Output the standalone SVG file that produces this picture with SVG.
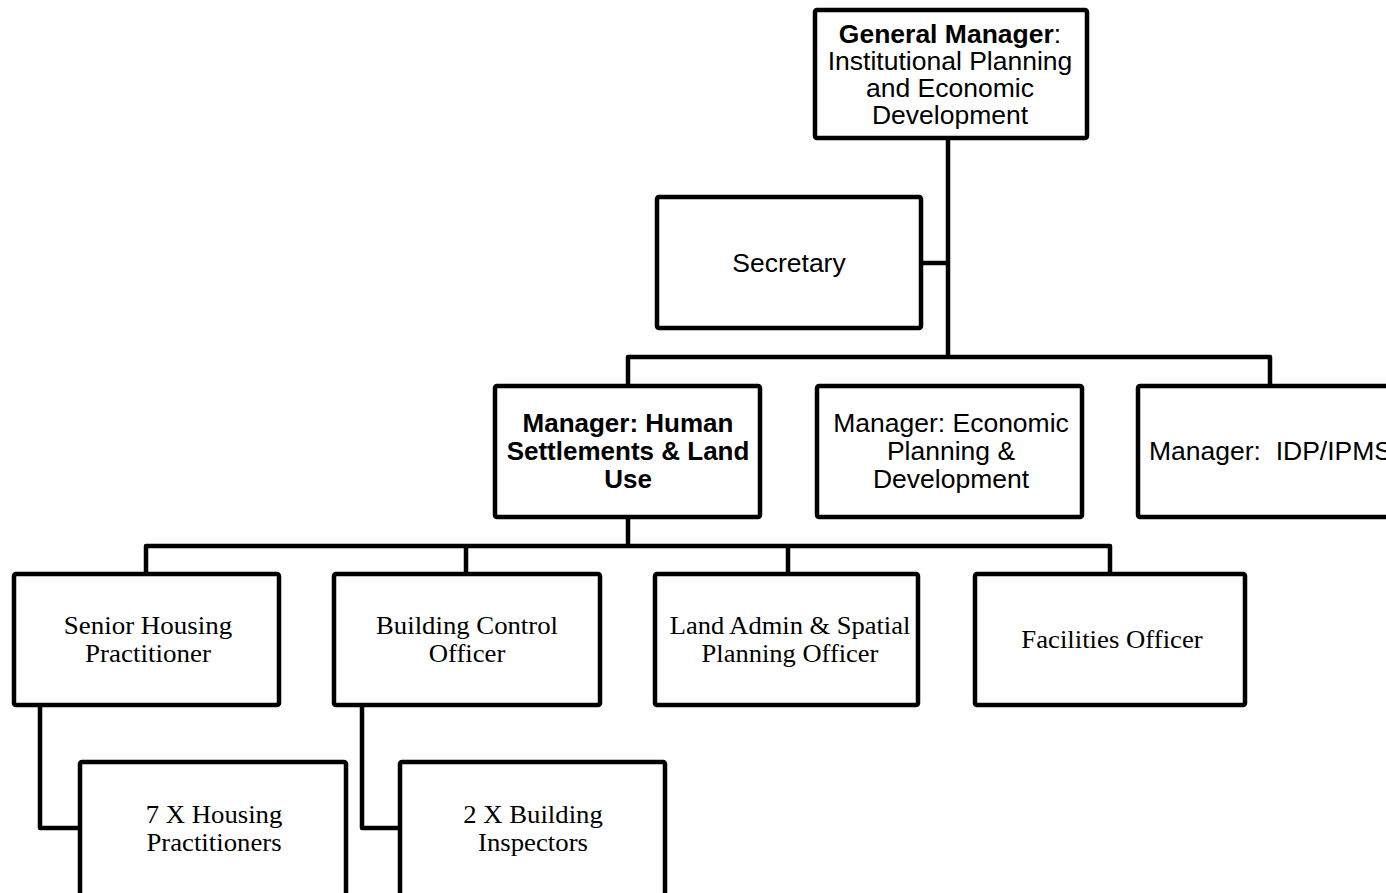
<svg xmlns="http://www.w3.org/2000/svg" width="1386" height="893" viewBox="0 0 1386 893">
  <style>
    .box { fill: #ffffff; stroke: #000000; stroke-width: 4.5; }
    .wire { fill: none; stroke: #000000; stroke-width: 4.5; stroke-linejoin: round; }
    .sans { font-family: "Liberation Sans", Arial, sans-serif; font-size: 26.5px; fill: #000000; text-anchor: middle; }
    .serif { font-family: "Liberation Serif", "Times New Roman", serif; font-size: 25px; fill: #000000; text-anchor: middle; }
    .b { font-weight: bold; font-size: 26px; }
  </style>
  <rect width="1386" height="893" fill="#ffffff"/>

  <!-- reporting lines -->
  <g id="connectors">
    <path class="wire" d="M948,138 V357"/>
    <path class="wire" d="M921,263 H948"/>
    <path class="wire" d="M628,386 V357 H1270 V386"/>
    <path class="wire" d="M628,517 V546"/>
    <path class="wire" d="M146,574 V546 H1110 V574"/>
    <path class="wire" d="M466,546 V574"/>
    <path class="wire" d="M788,546 V574"/>
    <path class="wire" d="M40,705 V828 H80"/>
    <path class="wire" d="M362,705 V828 H400"/>
  </g>

  <g id="general-manager">
    <rect class="box" x="815" y="10" width="272" height="128" rx="2"/>
    <text class="sans" x="950" y="43"><tspan class="b" style="font-size:26.5px">General Manager</tspan>:</text>
    <text class="sans" x="950" y="70">Institutional Planning</text>
    <text class="sans" x="950" y="97">and Economic</text>
    <text class="sans" x="950" y="124">Development</text>
  </g>

  <g id="secretary">
    <rect class="box" x="657" y="197" width="264" height="131" rx="2"/>
    <text class="sans" x="789" y="272">Secretary</text>
  </g>

  <g id="manager-human-settlements">
    <rect class="box" x="495" y="386" width="265" height="131" rx="2"/>
    <text class="sans b" x="628" y="432">Manager: Human</text>
    <text class="sans b" x="628" y="460">Settlements &amp; Land</text>
    <text class="sans b" x="628" y="488">Use</text>
  </g>

  <g id="manager-economic">
    <rect class="box" x="817" y="386" width="265" height="131" rx="2"/>
    <text class="sans" x="951" y="432">Manager: Economic</text>
    <text class="sans" x="951" y="460">Planning &amp;</text>
    <text class="sans" x="951" y="488">Development</text>
  </g>

  <g id="manager-idp">
    <rect class="box" x="1138" y="386" width="270" height="131" rx="2"/>
    <text class="sans" x="1149" y="460" style="text-anchor:start; white-space:pre">Manager:  IDP/IPMS</text>
  </g>

  <g id="senior-housing">
    <rect class="box" x="14" y="574" width="265" height="131" rx="2"/>
    <text class="serif" transform="translate(148,634) scale(1.08,1)">Senior Housing</text>
    <text class="serif" transform="translate(148,662) scale(1.08,1)">Practitioner</text>
  </g>

  <g id="building-control">
    <rect class="box" x="334" y="574" width="266" height="131" rx="2"/>
    <text class="serif" transform="translate(467,634) scale(1.07,1)">Building Control</text>
    <text class="serif" transform="translate(467,662) scale(1.07,1)">Officer</text>
  </g>

  <g id="land-admin">
    <rect class="box" x="655" y="574" width="263" height="131" rx="2"/>
    <text class="serif" transform="translate(790,634) scale(1.06,1)">Land Admin &amp; Spatial</text>
    <text class="serif" transform="translate(790,662) scale(1.06,1)">Planning Officer</text>
  </g>

  <g id="facilities">
    <rect class="box" x="975" y="574" width="270" height="131" rx="2"/>
    <text class="serif" transform="translate(1112,648) scale(1.07,1)">Facilities Officer</text>
  </g>

  <g id="housing-practitioners">
    <rect class="box" x="80" y="762" width="266" height="140" rx="2"/>
    <text class="serif" transform="translate(214,823) scale(1.07,1)">7 X Housing</text>
    <text class="serif" transform="translate(214,851) scale(1.07,1)">Practitioners</text>
  </g>

  <g id="building-inspectors">
    <rect class="box" x="400" y="762" width="265" height="140" rx="2"/>
    <text class="serif" transform="translate(533,823) scale(1.07,1)">2 X Building</text>
    <text class="serif" transform="translate(533,851) scale(1.07,1)">Inspectors</text>
  </g>
</svg>
